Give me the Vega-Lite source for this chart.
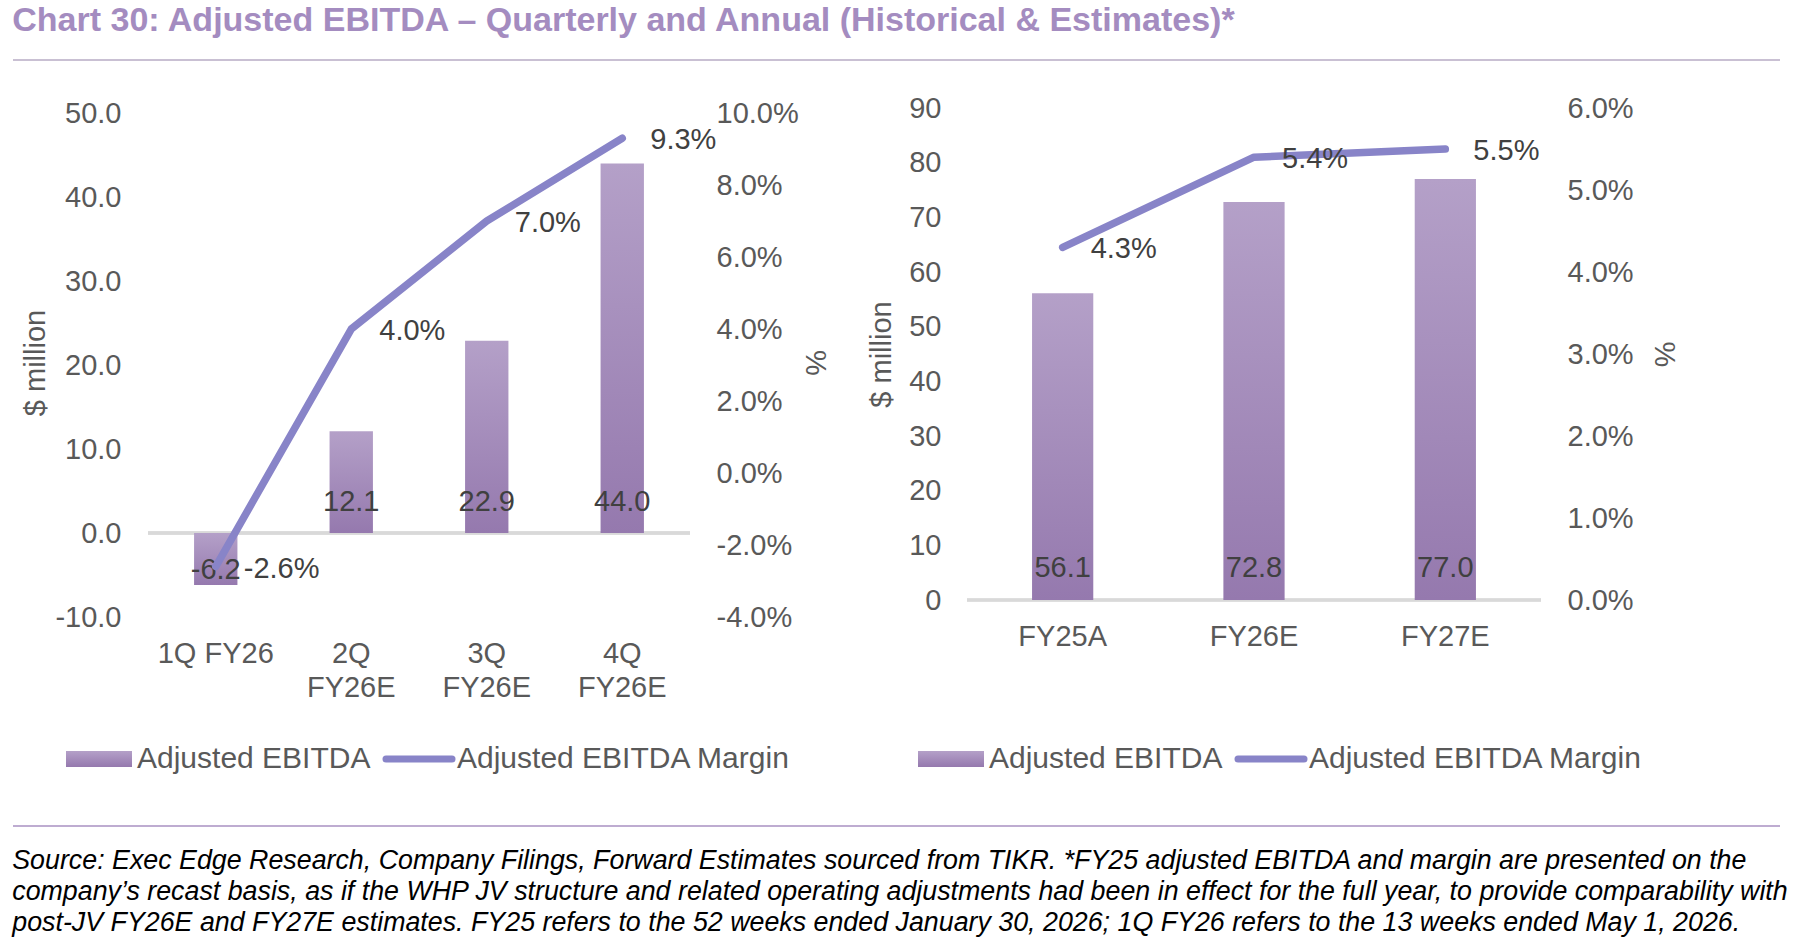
{
  "$schema": "https://vega.github.io/schema/vega-lite/v6.json",
  "background": "white",
  "padding": {"left": 12, "top": 4, "right": 0, "bottom": 0},
  "title": {
    "text": "Chart 30: Adjusted EBITDA – Quarterly and Annual (Historical & Estimates)*",
    "anchor": "start",
    "font": "Liberation Sans",
    "fontSize": 34,
    "fontWeight": "bold",
    "color": "#A48CC0",
    "offset": 21
  },
  "spacing": 0,
  "vconcat": [
    {
      "width": 1632,
      "height": 34,
      "data": {"values": [{"v": 1}]},
      "mark": {"type": "rule", "color": "#B7ABC5", "strokeWidth": 1.5},
      "encoding": {
        "x": {"datum": -135, "type": "quantitative", "scale": {"domain": [0, 1632], "nice": false, "zero": false}, "axis": null},
        "x2": {"datum": 1632},
        "y": {"datum": 1, "type": "quantitative", "scale": {"domain": [0, 1]}, "axis": null}
      }
    },
    {
      "spacing": 38,
      "resolve": {"scale": {"color": "independent"}, "legend": {"color": "independent"}},
      "hconcat": [
        {
          "width": 542,
          "height": 509,
          "data": {"values": [
            {"period": "1Q FY26", "ebitda": -6.2, "margin": -0.026},
            {"period": "2Q FY26E", "ebitda": 12.1, "margin": 0.040},
            {"period": "3Q FY26E", "ebitda": 22.9, "margin": 0.070},
            {"period": "4Q FY26E", "ebitda": 44.0, "margin": 0.093}
          ]},
          "resolve": {"scale": {"y": "independent"}},
          "layer": [
            {
              "encoding": {
                "x": {"field": "period", "type": "nominal", "sort": null,
                      "scale": {"paddingInner": 0.68, "paddingOuter": 0.34},
                      "axis": {"title": null, "domain": false, "ticks": false, "labelAngle": 0,
                               "labelPadding": 22, "labelLineHeight": 34,
                               "labelExpr": "length(datum.value) > 7 ? split(datum.value, ' ') : datum.value"}},
                "y": {"field": "ebitda", "type": "quantitative",
                      "scale": {"domain": [-10, 50.6], "nice": false, "zero": false},
                      "axis": {"title": "$ million", "values": [-10, 0, 10, 20, 30, 40, 50], "format": ".1f",
                               "grid": false, "domain": false, "ticks": false, "labelPadding": 27, "titlePadding": 4}}
              },
              "layer": [
                {
                  "mark": {"type": "rule", "color": "#D9D9D9", "strokeWidth": 3},
                  "encoding": {"y": {"datum": 0, "type": "quantitative"}, "x": null}
                },
                {
                  "mark": {"type": "bar",
                           "color": {"gradient": "linear", "x1": 0, "y1": 0, "x2": 0, "y2": 1,
                                     "stops": [{"offset": 0, "color": "#B4A0C8"}, {"offset": 1, "color": "#9579AE"}]}}
                },
                {
                  "transform": [{"filter": "datum.ebitda > 0"}],
                  "mark": {"type": "text", "fontSize": 29, "color": "#404040", "baseline": "middle", "dy": -31},
                  "encoding": {"y": {"datum": 0, "type": "quantitative"}, "text": {"field": "ebitda", "type": "quantitative", "format": ".1f"}}
                },
                {
                  "transform": [{"filter": "datum.ebitda < 0"}],
                  "mark": {"type": "text", "fontSize": 29, "color": "#404040", "baseline": "middle", "dy": -15},
                  "encoding": {"text": {"field": "ebitda", "type": "quantitative", "format": ".1f"}}
                }
              ]
            },
            {
              "encoding": {
                "x": {"field": "period", "type": "nominal", "sort": null,
                      "axis": {"title": null, "domain": false, "ticks": false, "labelAngle": 0,
                               "labelPadding": 22, "labelLineHeight": 34,
                               "labelExpr": "length(datum.value) > 7 ? split(datum.value, ' ') : datum.value"}},
                "y": {"field": "margin", "type": "quantitative",
                      "scale": {"domain": [-0.04, 0.1014], "nice": false, "zero": false},
                      "axis": {"orient": "right", "title": "%", "values": [-0.04, -0.02, 0, 0.02, 0.04, 0.06, 0.08, 0.1], "format": ".1%",
                               "grid": false, "domain": false, "ticks": false, "labelPadding": 26, "titlePadding": 1}}
              },
              "layer": [
                {
                  "mark": {"type": "line", "strokeWidth": 7.5, "strokeCap": "round", "strokeJoin": "round"},
                  "encoding": {
                    "color": {"datum": "Adjusted EBITDA Margin",
                      "scale": {"domain": ["Adjusted EBITDA", "Adjusted EBITDA Margin"], "range": ["#A58DBE", "#8884C8"]},
                      "legend": {"title": null, "orient": "none", "legendX": -64, "legendY": 636, "direction": "horizontal",
                                 "labelFontSize": 30, "labelColor": "#595959", "labelOffset": 23, "labelLimit": 500,
                                 "symbolSize": 4356, "columnPadding": 1,
                                 "encode": {"symbols": {"update": {
                                   "shape": {"signal": "datum.value === 'Adjusted EBITDA' ? 'M-1,-0.24H1V0.24H-1Z' : 'M-1,0H1'"},
                                   "fill": {"signal": "datum.value === 'Adjusted EBITDA' ? {gradient: 'linear', x1: 0, y1: 0, x2: 0, y2: 1, stops: [{offset: 0, color: '#B4A0C8'}, {offset: 1, color: '#9579AE'}]} : 'transparent'"},
                                   "stroke": {"signal": "datum.value === 'Adjusted EBITDA' ? 'transparent' : '#8884C8'"},
                                   "strokeWidth": {"signal": "datum.value === 'Adjusted EBITDA' ? 0 : 7"},
                                   "strokeCap": {"value": "round"},
                                   "opacity": {"value": 1}
                                 }}}}
                    }
                  }
                },
                {
                  "mark": {"type": "text", "fontSize": 29, "color": "#404040", "align": "left", "baseline": "middle", "dx": 28, "dy": 2},
                  "encoding": {"text": {"field": "margin", "type": "quantitative", "format": ".1%"}}
                }
              ]
            }
          ]
        },
        {
          "width": 574,
          "height": 492,
          "data": {"values": [
            {"period": "FY25A", "ebitda": 56.1, "margin": 0.043},
            {"period": "FY26E", "ebitda": 72.8, "margin": 0.054},
            {"period": "FY27E", "ebitda": 77.0, "margin": 0.055}
          ]},
          "resolve": {"scale": {"y": "independent"}},
          "layer": [
            {
              "encoding": {
                "x": {"field": "period", "type": "nominal", "sort": null,
                      "scale": {"paddingInner": 0.68, "paddingOuter": 0.34},
                      "axis": {"title": null, "domain": false, "ticks": false, "labelAngle": 0, "labelPadding": 22}},
                "y": {"field": "ebitda", "type": "quantitative",
                      "scale": {"domain": [0, 90], "nice": false},
                      "axis": {"title": "$ million", "values": [0, 10, 20, 30, 40, 50, 60, 70, 80, 90], "format": "d",
                               "grid": false, "domain": false, "ticks": false, "labelPadding": 26, "titlePadding": 12}}
              },
              "layer": [
                {
                  "mark": {"type": "rule", "color": "#D9D9D9", "strokeWidth": 3},
                  "encoding": {"y": {"datum": 0, "type": "quantitative"}, "x": null}
                },
                {
                  "mark": {"type": "bar",
                           "color": {"gradient": "linear", "x1": 0, "y1": 0, "x2": 0, "y2": 1,
                                     "stops": [{"offset": 0, "color": "#B4A0C8"}, {"offset": 1, "color": "#9579AE"}]}}
                },
                {
                  "mark": {"type": "text", "fontSize": 29, "color": "#404040", "baseline": "middle", "dy": -32},
                  "encoding": {"y": {"datum": 0, "type": "quantitative"}, "text": {"field": "ebitda", "type": "quantitative", "format": ".1f"}}
                }
              ]
            },
            {
              "encoding": {
                "x": {"field": "period", "type": "nominal", "sort": null,
                      "axis": {"title": null, "domain": false, "ticks": false, "labelAngle": 0, "labelPadding": 22}},
                "y": {"field": "margin", "type": "quantitative",
                      "scale": {"domain": [0, 0.06], "nice": false},
                      "axis": {"orient": "right", "title": "%", "values": [0, 0.01, 0.02, 0.03, 0.04, 0.05, 0.06], "format": ".1%",
                               "grid": false, "domain": false, "ticks": false, "labelPadding": 26, "titlePadding": 15}}
              },
              "layer": [
                {
                  "mark": {"type": "line", "strokeWidth": 7.5, "strokeCap": "round", "strokeJoin": "round"},
                  "encoding": {
                    "color": {"datum": "Adjusted EBITDA Margin",
                      "scale": {"domain": ["Adjusted EBITDA", "Adjusted EBITDA Margin"], "range": ["#A58DBE", "#8884C8"]},
                      "legend": {"title": null, "orient": "none", "legendX": -31, "legendY": 636, "direction": "horizontal",
                                 "labelFontSize": 30, "labelColor": "#595959", "labelOffset": 23, "labelLimit": 500,
                                 "symbolSize": 4356, "columnPadding": 1,
                                 "encode": {"symbols": {"update": {
                                   "shape": {"signal": "datum.value === 'Adjusted EBITDA' ? 'M-1,-0.24H1V0.24H-1Z' : 'M-1,0H1'"},
                                   "fill": {"signal": "datum.value === 'Adjusted EBITDA' ? {gradient: 'linear', x1: 0, y1: 0, x2: 0, y2: 1, stops: [{offset: 0, color: '#B4A0C8'}, {offset: 1, color: '#9579AE'}]} : 'transparent'"},
                                   "stroke": {"signal": "datum.value === 'Adjusted EBITDA' ? 'transparent' : '#8884C8'"},
                                   "strokeWidth": {"signal": "datum.value === 'Adjusted EBITDA' ? 0 : 7"},
                                   "strokeCap": {"value": "round"},
                                   "opacity": {"value": 1}
                                 }}}}
                    }
                  }
                },
                {
                  "mark": {"type": "text", "fontSize": 29, "color": "#404040", "align": "left", "baseline": "middle", "dx": 28, "dy": 2},
                  "encoding": {"text": {"field": "margin", "type": "quantitative", "format": ".1%"}}
                }
              ]
            }
          ]
        }
      ]
    },
    {
      "width": 1632,
      "height": 52,
      "data": {"values": [{"v": 0}]},
      "mark": {"type": "rule", "color": "#A990C2", "strokeWidth": 1.5},
      "encoding": {
        "x": {"datum": -135, "type": "quantitative", "scale": {"domain": [0, 1632], "nice": false, "zero": false}, "axis": null},
        "x2": {"datum": 1632},
        "y": {"datum": 0, "type": "quantitative", "scale": {"domain": [0, 1]}, "axis": null}
      },
      "title": {
        "text": [
          "Source: Exec Edge Research, Company Filings, Forward Estimates sourced from TIKR. *FY25 adjusted EBITDA and margin are presented on the",
          "company’s recast basis, as if the WHP JV structure and related operating adjustments had been in effect for the full year, to provide comparability with",
          "post-JV FY26E and FY27E estimates. FY25 refers to the 52 weeks ended January 30, 2026; 1Q FY26 refers to the 13 weeks ended May 1, 2026."
        ],
        "orient": "bottom",
        "anchor": "start",
        "font": "Liberation Sans",
        "fontSize": 26.8,
        "fontStyle": "italic",
        "fontWeight": "normal",
        "color": "#000000",
        "lineHeight": 31,
        "offset": 21
      }
    }
  ],
  "config": {
    "font": "Liberation Sans",
    "locale": {"number": {"decimal": ".", "thousands": ",", "grouping": [3], "currency": ["$", ""], "minus": "-"}},
    "view": {"stroke": null},
    "axis": {"labelFont": "Liberation Sans", "labelFontSize": 29, "labelColor": "#595959",
             "titleFont": "Liberation Sans", "titleFontSize": 29, "titleColor": "#595959", "titleFontWeight": "normal"},
    "legend": {"labelFont": "Liberation Sans"}
  }
}
